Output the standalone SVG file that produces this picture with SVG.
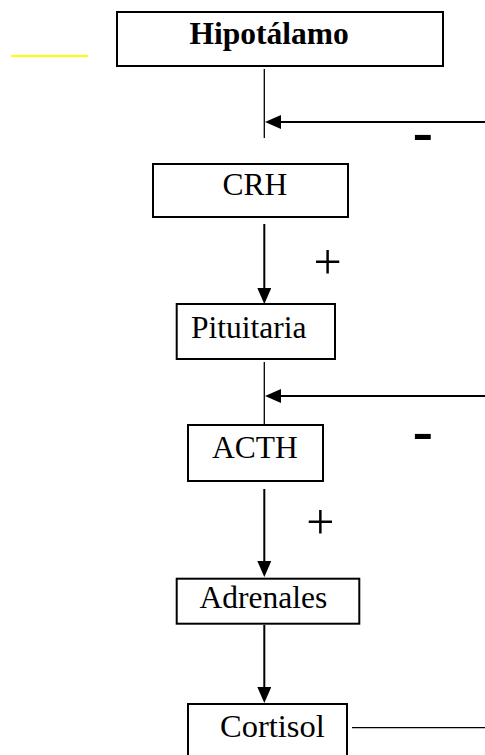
<svg xmlns="http://www.w3.org/2000/svg" width="485" height="755" viewBox="0 0 485 755">
<style>
.box{fill:#fff;stroke:#000;stroke-width:2}
.lbl{font-family:"Liberation Serif","Times New Roman",serif;font-size:31.5px;fill:#000}
.thin{stroke:#000;stroke-width:1.3;fill:none}
.arr{stroke:#000;stroke-width:2;fill:none}
.sign{font-family:"Liberation Serif","Times New Roman",serif;font-size:50px;fill:#000}
.dash{font-family:"Liberation Sans",Arial,sans-serif;font-size:65px;fill:#000}
</style>
<defs>
<marker id="ah" markerUnits="userSpaceOnUse" markerWidth="18" markerHeight="16" refX="4" refY="7" orient="auto">
<path d="M0,0 L16,7 L0,14 z" fill="#000"/>
</marker>
</defs>
<rect x="0" y="0" width="485" height="755" fill="#fff"/>
<line x1="11" y1="56" x2="88" y2="56" stroke="#ffff00" stroke-width="2"/>
<g id="connectors">
<line class="thin" x1="264.3" y1="69" x2="264.3" y2="138"/>
<line class="arr" x1="485" y1="122" x2="277" y2="122" marker-end="url(#ah)"/>
<line class="arr" x1="264.3" y1="224" x2="264.3" y2="292" marker-end="url(#ah)"/>
<line class="thin" x1="264.3" y1="362" x2="264.3" y2="424"/>
<line class="arr" x1="485" y1="396" x2="277" y2="396" marker-end="url(#ah)"/>
<line class="arr" x1="264.3" y1="489" x2="264.3" y2="565" marker-end="url(#ah)"/>
<line class="arr" x1="264.3" y1="625" x2="264.3" y2="691" marker-end="url(#ah)"/>
<line class="thin" x1="352" y1="727.7" x2="485" y2="727.7"/>
<text class="dash" x="412" y="155">-</text>
<text class="sign" x="313.5" y="279">+</text>
<text class="dash" x="412" y="454">-</text>
<text class="sign" x="306.2" y="538.5">+</text>
</g>
<g id="hipotalamo">
<rect class="box" x="117" y="12" width="326" height="54"/>
<text class="lbl" x="189.5" y="44" font-weight="bold">Hipotálamo</text>
</g>
<g id="crh">
<rect class="box" x="153" y="164" width="195" height="53"/>
<text class="lbl" x="222.5" y="195">CRH</text>
</g>
<g id="pituitaria">
<rect class="box" x="176.7" y="304" width="158.3" height="55"/>
<text class="lbl" x="191" y="338">Pituitaria</text>
</g>
<g id="acth">
<rect class="box" x="188" y="425" width="135" height="56"/>
<text class="lbl" x="212" y="458">ACTH</text>
</g>
<g id="adrenales">
<rect class="box" x="176.7" y="578.7" width="182.6" height="45"/>
<text class="lbl" x="199.5" y="608">Adrenales</text>
</g>
<g id="cortisol">
<rect class="box" x="188" y="704" width="159" height="60"/>
<text class="lbl" x="220" y="737" style="font-size:32.5px">Cortisol</text>
</g>
</svg>
